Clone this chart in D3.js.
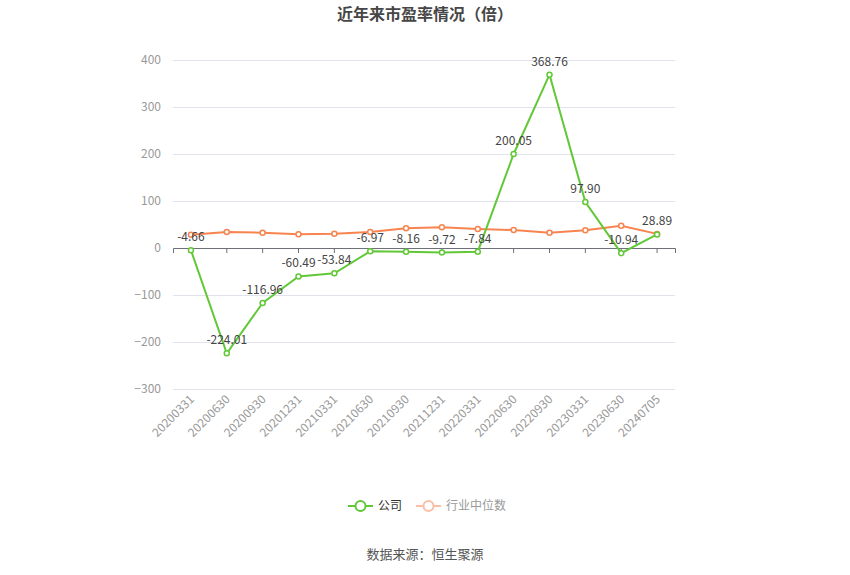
<!DOCTYPE html>
<html><head><meta charset="utf-8">
<script src="https://cdn.jsdelivr.net/npm/d3@7"></script>
<style>body{margin:0;background:#fff;font-family:"Noto Sans CJK SC","Microsoft YaHei",sans-serif;}</style>
</head><body><svg id="c" width="850" height="575"></svg>
<script>
const categories = ["20200331","20200630","20200930","20201231","20210331","20210630","20210930","20211231","20220331","20220630","20220930","20230331","20230630","20240705"];
const companyPE = [-4.66,-224.01,-116.96,-60.49,-53.84,-6.97,-8.16,-9.72,-7.84,200.05,368.76,97.90,-10.94,28.89];
const industryPE = [28.4,34,32.6,29,30.5,34,41.8,44,40.4,38.3,32.6,37.6,47.5,30];
const yTicks = [-300,-200,-100,0,100,200,300,400];
const seriesNames = ["公司","行业中位数"];

(function(){
const green = "#62c837", orange = "#f7844f";
const svg = d3.select("#c");
const pLeft = 173, pRight = 675, pTop = 60, pBottom = 389;
const x = d3.scaleBand().domain(categories).range([pLeft, pRight]);
const cx = d => x(d) + x.bandwidth()/2;
const y = d3.scaleLinear().domain([-300,400]).range([pBottom, pTop]);
const font = '"Noto Sans CJK SC", sans-serif';

svg.append("text").attr("x",425).attr("y",20).attr("text-anchor","middle")
  .attr("font-size",16).attr("font-weight","bold").attr("fill","#464646").attr("font-family",font)
  .text("近年来市盈率情况（倍）");

const yAxis = d3.axisLeft(y).tickValues(yTicks).tickSize(-(pRight-pLeft)).tickPadding(12);
const ga = svg.append("g").attr("transform",`translate(${pLeft},0)`).call(yAxis);
ga.select(".domain").remove();
ga.selectAll(".tick line").attr("stroke","#e0e3ee").attr("stroke-width",1);
ga.selectAll(".tick text").attr("fill","#999").attr("font-size",12).attr("font-family",font);

const xAxis = d3.axisBottom(x).tickSize(5).tickFormat("");
const gx = svg.append("g").attr("transform",`translate(0,${y(0)})`).call(xAxis);
gx.select(".domain").attr("stroke","#6e7079");
gx.selectAll(".tick line").attr("stroke","#6e7079");

const lab = svg.append("g");
categories.forEach(c=>{
  lab.append("text").attr("transform",`translate(${cx(c)+1},${pBottom+8}) rotate(-45)`)
    .attr("text-anchor","end").attr("dy","0.35em").attr("font-size",12).attr("fill","#999")
    .attr("font-family",font).text(c);
});

const line = d3.line().x((d,i)=>cx(categories[i])).y(d=>y(d));
function drawSeries(vals,color){
  svg.append("path").datum(vals).attr("d",line).attr("fill","none").attr("stroke",color).attr("stroke-width",2);
  svg.append("g").selectAll("circle").data(vals).join("circle")
    .attr("cx",(d,i)=>cx(categories[i])).attr("cy",d=>y(d)).attr("r",2.5)
    .attr("fill","#fff").attr("stroke",color).attr("stroke-width",1.5);
}
drawSeries(industryPE,orange);
drawSeries(companyPE,green);

svg.append("g").selectAll("text").data(companyPE).join("text")
  .attr("x",(d,i)=>cx(categories[i])).attr("y",d=>y(d)-9)
  .attr("text-anchor","middle").attr("font-size",12).attr("fill","#444").attr("font-family",font)
  .text(d=>d.toFixed(2));

const lg = svg.append("g");
function legendItem(x0,color,txt,tcol){
  lg.append("line").attr("x1",x0).attr("x2",x0+25).attr("y1",506).attr("y2",506).attr("stroke",color).attr("stroke-width",2);
  lg.append("circle").attr("cx",x0+12.5).attr("cy",506).attr("r",5).attr("fill","#fff").attr("stroke",color).attr("stroke-width",2);
  lg.append("text").attr("x",x0+30).attr("y",506).attr("dy","0.35em").attr("font-size",12).attr("fill",tcol).attr("font-family",font).text(txt);
}
legendItem(348,green,seriesNames[0],"#333");
legendItem(416,"#fbbfa6",seriesNames[1],"#999");

svg.append("text").attr("x",425).attr("y",559).attr("text-anchor","middle").attr("font-size",13)
  .attr("fill","#555").attr("font-family",font).text("数据来源：恒生聚源");
})();
</script></body></html>
